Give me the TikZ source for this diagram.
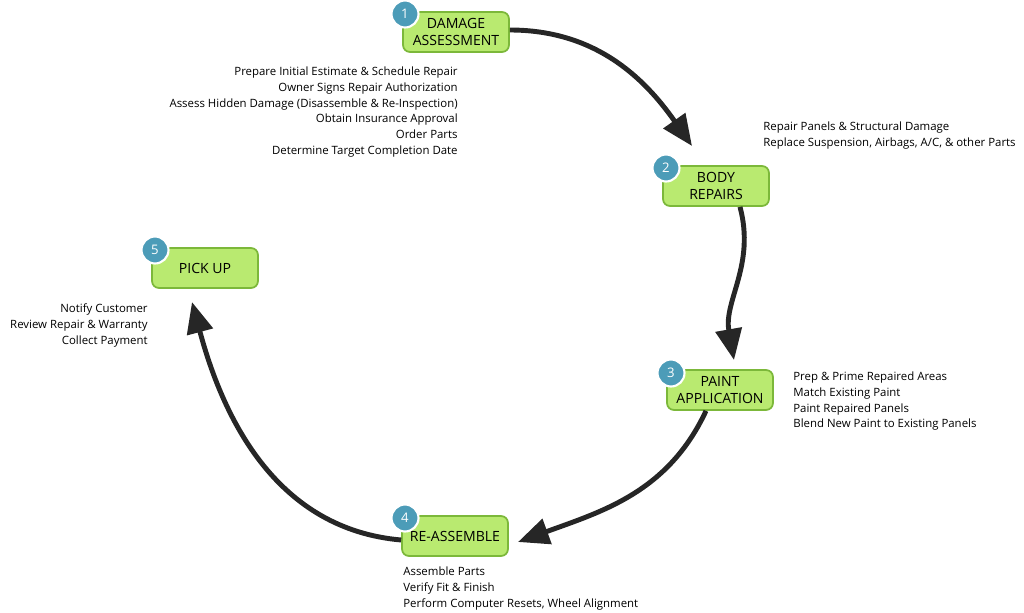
\documentclass[tikz,border=0pt]{standalone}
\usepackage{fontspec}
\setmainfont{Open Sans}
\usetikzlibrary{arrows.meta}
\definecolor{boxgreen}{HTML}{B9EA70}
\definecolor{boxline}{HTML}{7CB83A}
\definecolor{stepblue}{HTML}{4C9CB8}
\tikzset{
  stagebox/.style={draw=boxline, fill=boxgreen, line width=1pt, rounded corners=4pt,
    minimum width=2.12cm, minimum height=0.8cm, align=center, font=\fontsize{8}{9.5}\selectfont},
  stagenum/.style={circle, draw=white, line width=1.2pt, fill=stepblue, text=white,
    minimum size=0.54cm, inner sep=0pt, font=\fontsize{7.5}{9}\selectfont},
  notes/.style={font=\fontsize{6.5}{9.1}\selectfont, inner sep=0pt},
  cyclearrow/.style={line width=2.8pt, color=black!85, -{Triangle[length=0.62cm, width=0.52cm]}}
}
\begin{document}
\begin{tikzpicture}[x=0.02cm, y=-0.02cm]
  \useasboundingbox (0,0) rectangle (1024,612);
  % stages
  \node[stagebox] (assess) at (456,32) {DAMAGE\\ASSESSMENT};
  \node[stagebox] (body) at (716,186) {BODY\\REPAIRS};
  \node[stagebox] (paint) at (720,390) {PAINT\\APPLICATION};
  \node[stagebox] (reassemble) at (455,536) {RE-ASSEMBLE};
  \node[stagebox] (pickup) at (205,268) {PICK UP};
  \node[stagenum] (n1) at (405,14) {1};
  \node[stagenum] (n2) at (666,168) {2};
  \node[stagenum] (n3) at (671,373) {3};
  \node[stagenum] (n4) at (405,518) {4};
  \node[stagenum] (n5) at (155,250) {5};
  % cycle
  \coordinate (a1) at (692,146);
  \coordinate (a2) at (734,360);
  \coordinate (a3) at (518,542);
  \coordinate (a4) at (192,302);
  \draw[cyclearrow] (assess.east) ++(0,-2) to[out=0, in=125] (a1);
  \draw[cyclearrow] (body.south) ++(24,0) to[out=-75, in=100] (a2);
  \draw[cyclearrow] (paint.south) ++(-14,0) to[out=-115, in=20] (a3);
  \draw[cyclearrow] (reassemble.west) ++(0,4) to[out=175, in=-75] (a4);
  % notes
  \node[notes, align=right, anchor=north east] (t1) at (458,66) {Prepare Initial Estimate \& Schedule Repair\\Owner Signs Repair Authorization\\Assess Hidden Damage (Disassemble \& Re-Inspection)\\Obtain Insurance Approval\\Order Parts\\Determine Target Completion Date};
  \node[notes, align=left, anchor=north west] (t2) at (763,121) {Repair Panels \& Structural Damage\\Replace Suspension, Airbags, A/C, \& other Parts};
  \node[notes, align=left, anchor=north west] (t3) at (793,371) {Prep \& Prime Repaired Areas\\Match Existing Paint\\Paint Repaired Panels\\Blend New Paint to Existing Panels};
  \node[notes, align=left, anchor=north west] (t4) at (403,566) {Assemble Parts\\Verify Fit \& Finish\\Perform Computer Resets, Wheel Alignment};
  \node[notes, align=right, anchor=north east] (t5) at (148,303) {Notify Customer\\Review Repair \& Warranty\\Collect Payment};
\end{tikzpicture}
\end{document}
